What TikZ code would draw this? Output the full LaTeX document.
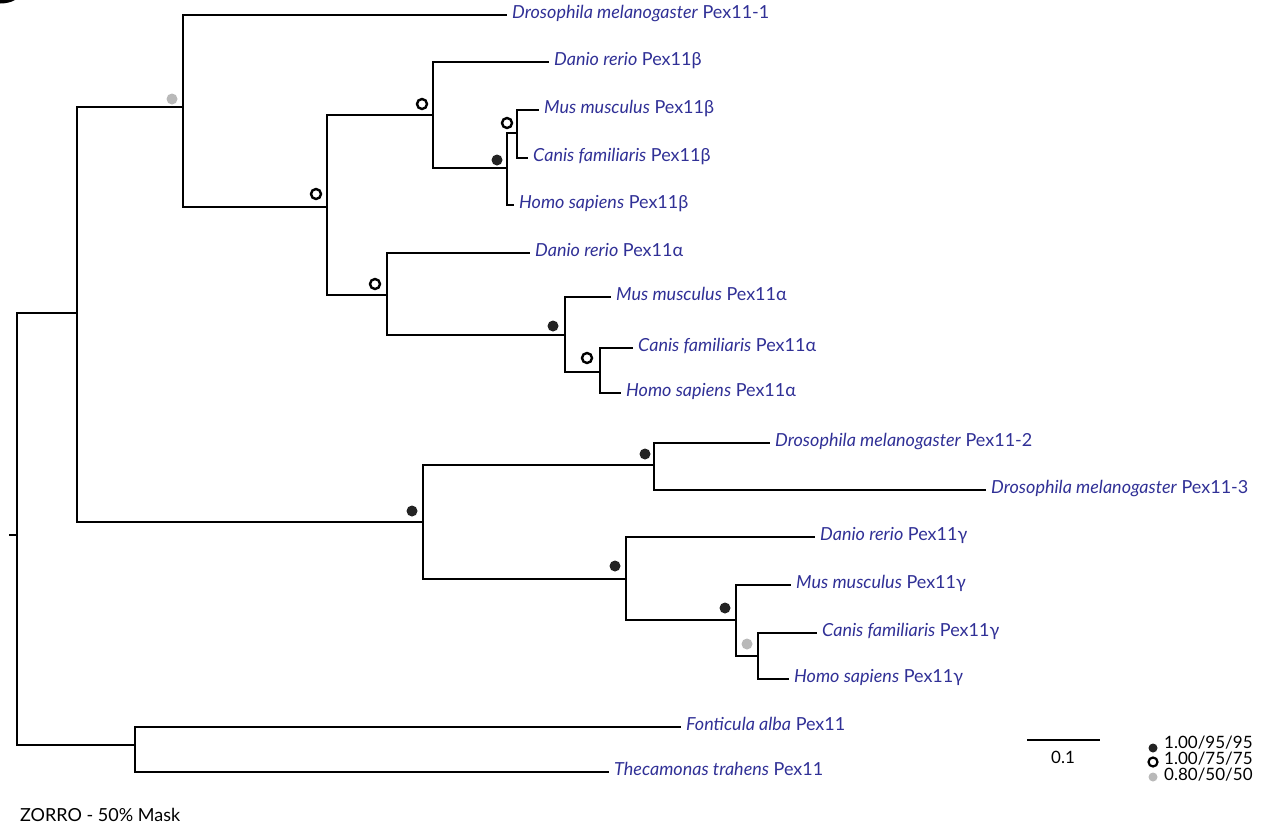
\documentclass[tikz,border=0pt]{standalone}
\usepackage{fontspec}
\setmainfont{Lato}
\definecolor{lbl}{RGB}{48,48,150}
\definecolor{dk}{RGB}{35,35,35}
\definecolor{gr}{RGB}{185,185,185}
\begin{document}
\begin{tikzpicture}[x=1pt,y=-1pt,
  branch/.style={line width=2.9pt,line join=miter,line cap=rect},
  leaf/.style={anchor=west,inner xsep=6pt,inner ysep=0pt,text=lbl,font=\fontsize{18}{21}\selectfont,text height=0.9em,text depth=0.18em},
  fdot/.style={circle,fill=dk,minimum size=11pt,inner sep=0pt},
  odot/.style={circle,draw=black,line width=2.4pt,fill=white,minimum size=10pt,inner sep=0pt},
  gdot/.style={circle,fill=gr,minimum size=11pt,inner sep=0pt},
  plain/.style={font=\fontsize{17}{20}\selectfont,inner sep=0pt,text height=0.9em,text depth=0.18em}
]
\useasboundingbox (0,0) rectangle (1273,833);
% cut-off panel letter
\fill[black] (0,0) -- (15,0) .. controls (11,2.5) and (5,3.5) .. (0,3.5) -- cycle;

% internal nodes
\coordinate (tick) at (10,535);
\coordinate (R) at (17,535);
\coordinate (A) at (77,313);
\coordinate (B) at (183,107);
\coordinate (C) at (327,207);
\coordinate (D) at (433,115);
\coordinate (E) at (507,168);
\coordinate (F) at (517,133);
\coordinate (G) at (387,295);
\coordinate (H) at (565,335);
\coordinate (I) at (600,372);
\coordinate (J) at (423,522);
\coordinate (K) at (654,465);
\coordinate (L) at (626,579);
\coordinate (M) at (736,620);
\coordinate (N) at (758,656);
\coordinate (O) at (135,745);

% leaves
\node[leaf] (dm1) at (506,15) {\textit{Drosophila melanogaster} Pex11-1};
\node[leaf] (drb) at (548,62) {\textit{Danio rerio} Pex11β};
\node[leaf] (mmb) at (538,110) {\textit{Mus musculus} Pex11β};
\node[leaf] (cfb) at (527,158) {\textit{Canis familiaris} Pex11β};
\node[leaf] (hsb) at (513,205) {\textit{Homo sapiens} Pex11β};
\node[leaf] (dra) at (529,253) {\textit{Danio rerio} Pex11α};
\node[leaf] (mma) at (610,297) {\textit{Mus musculus} Pex11α};
\node[leaf] (cfa) at (632,348) {\textit{Canis familiaris} Pex11α};
\node[leaf] (hsa) at (620,393) {\textit{Homo sapiens} Pex11α};
\node[leaf] (dm2) at (769,443) {\textit{Drosophila melanogaster} Pex11-2};
\node[leaf] (dm3) at (985,490) {\textit{Drosophila melanogaster} Pex11-3};
\node[leaf] (drg) at (814,537) {\textit{Danio rerio} Pex11γ};
\node[leaf] (mmg) at (790,585) {\textit{Mus musculus} Pex11γ};
\node[leaf] (cfg) at (816,633) {\textit{Canis familiaris} Pex11γ};
\node[leaf] (hsg) at (788,679) {\textit{Homo sapiens} Pex11γ};
\node[leaf] (fa) at (680,727) {\textit{Fonticula alba} Pex11};
\node[leaf] (tt) at (608,772) {\textit{Thecamonas trahens} Pex11};

% branches
\draw[branch] (tick) -- (R);
\draw[branch] (A) -| (R);
\draw[branch] (O) -| (R);
\draw[branch] (B) -| (A);
\draw[branch] (J) -| (A);
\draw[branch] (dm1.west) -| (B);
\draw[branch] (C) -| (B);
\draw[branch] (D) -| (C);
\draw[branch] (G) -| (C);
\draw[branch] (drb.west) -| (D);
\draw[branch] (E) -| (D);
\draw[branch] (F) -| (E);
\draw[branch] (hsb.west) -| (E);
\draw[branch] (mmb.west) -| (F);
\draw[branch] (cfb.west) -| (F);
\draw[branch] (dra.west) -| (G);
\draw[branch] (H) -| (G);
\draw[branch] (mma.west) -| (H);
\draw[branch] (I) -| (H);
\draw[branch] (cfa.west) -| (I);
\draw[branch] (hsa.west) -| (I);
\draw[branch] (K) -| (J);
\draw[branch] (L) -| (J);
\draw[branch] (dm2.west) -| (K);
\draw[branch] (dm3.west) -| (K);
\draw[branch] (drg.west) -| (L);
\draw[branch] (M) -| (L);
\draw[branch] (mmg.west) -| (M);
\draw[branch] (N) -| (M);
\draw[branch] (cfg.west) -| (N);
\draw[branch] (hsg.west) -| (N);
\draw[branch] (fa.west) -| (O);
\draw[branch] (tt.west) -| (O);

% support dots
\node[gdot] (sB) at ([shift={(-11,-8)}]B) {};
\node[odot] (sC) at ([shift={(-11,-13)}]C) {};
\node[odot] (sD) at ([shift={(-11,-11)}]D) {};
\node[fdot] (sE) at ([shift={(-10,-8)}]E) {};
\node[odot] (sF) at ([shift={(-10,-10)}]F) {};
\node[odot] (sG) at ([shift={(-12,-11)}]G) {};
\node[fdot] (sH) at ([shift={(-12,-9)}]H) {};
\node[odot] (sI) at ([shift={(-13,-14)}]I) {};
\node[fdot] (sJ) at ([shift={(-11,-11)}]J) {};
\node[fdot] (sK) at ([shift={(-9,-11)}]K) {};
\node[fdot] (sL) at ([shift={(-11,-13)}]L) {};
\node[fdot] (sM) at ([shift={(-11,-12)}]M) {};
\node[gdot] (sN) at ([shift={(-11,-12)}]N) {};

% scale bar
\coordinate (sb1) at (1027,740);
\coordinate (sb2) at (1100,740);
\draw[line width=2.9pt] (sb1) -- (sb2);
\node[plain] (sbl) at (1063,760) {0.1};

% legend
\node[fdot,minimum size=9pt] (lg1) at (1153,748) {};
\node[odot,minimum size=9pt,line width=2.2pt] (lg2) at (1153,762) {};
\node[gdot,minimum size=9pt] (lg3) at (1153,777) {};
\node[plain,anchor=west] (lt1) at (1164,745) {1.00/95/95};
\node[plain,anchor=west] (lt2) at (1164,761) {1.00/75/75};
\node[plain,anchor=west] (lt3) at (1164,777) {0.80/50/50};

\node[plain,anchor=west,font=\fontsize{18}{21}\selectfont] (title) at (20,818) {ZORRO - 50\% Mask};
\end{tikzpicture}
\end{document}
